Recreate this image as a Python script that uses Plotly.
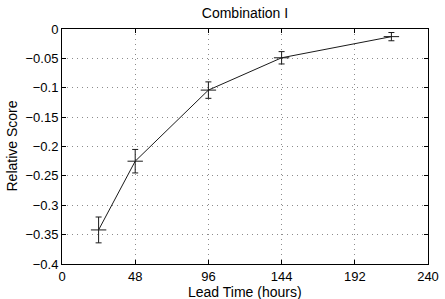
import plotly.graph_objects as go

lead_time = [24, 48, 96, 144, 216]
score = [-0.342, -0.225, -0.104, -0.049, -0.013]
err = [0.022, 0.020, 0.014, 0.0105, 0.007]

x_ticks = [0, 48, 96, 144, 192, 240]
y_ticks = [0, -0.05, -0.1, -0.15, -0.2, -0.25, -0.3, -0.35, -0.4]
y_tick_labels = ["0", "\u22120.05", "\u22120.1", "\u22120.15", "\u22120.2",
                 "\u22120.25", "\u22120.3", "\u22120.35", "\u22120.4"]

fig = go.Figure()
fig.add_trace(go.Scatter(
    x=lead_time, y=score, mode="lines+markers",
    line=dict(color="#1a1a1a", width=1),
    marker=dict(symbol="line-ew", size=11, line=dict(color="#1a1a1a", width=1)),
    error_y=dict(type="data", array=err, visible=True, color="#1a1a1a",
                 thickness=1, width=3),
    showlegend=False,
))

font = "Liberation Sans, Arial, Helvetica, sans-serif"
axis_common = dict(
    showline=True, linecolor="black", linewidth=1, mirror="ticks",
    ticks="inside", ticklen=4, tickcolor="black",
    showgrid=True, gridcolor="rgba(0,0,0,0.45)", gridwidth=1, griddash="1px,4px",
    zeroline=False, tickfont=dict(family=font, size=13, color="black"),
    automargin=False,
)

L, R, T, B = 62, 17, 29, 35
W, H = 445, 299
pw, ph = W - L - R, H - T - B

fig.update_layout(
    width=W, height=H,
    margin=dict(l=L, r=R, t=T, b=B),
    paper_bgcolor="white", plot_bgcolor="white",
    title=dict(text="Combination I", xref="paper", x=0.5, xanchor="center",
               y=1 - 8 / H, yanchor="top",
               font=dict(family=font, size=14, color="black")),
    xaxis=dict(range=[0, 240], tickvals=x_ticks, **axis_common),
    yaxis=dict(range=[-0.4, 0], tickvals=y_ticks, ticktext=y_tick_labels, **axis_common),
    annotations=[
        dict(text="Lead Time (hours)", xref="paper", yref="paper", x=0.5,
             y=-(291.5 - (T + ph)) / ph, xanchor="center", yanchor="middle",
             showarrow=False, font=dict(family=font, size=14, color="black")),
        dict(text="Relative Score", xref="paper", yref="paper", x=-(L - 11) / pw,
             y=0.5, xanchor="center", yanchor="middle", textangle=-90,
             showarrow=False, font=dict(family=font, size=14, color="black")),
    ],
)

fig.write_html("out.html", config={"displayModeBar": False},
               post_script="document.body.style.margin='0px';document.body.style.padding='0px';")
